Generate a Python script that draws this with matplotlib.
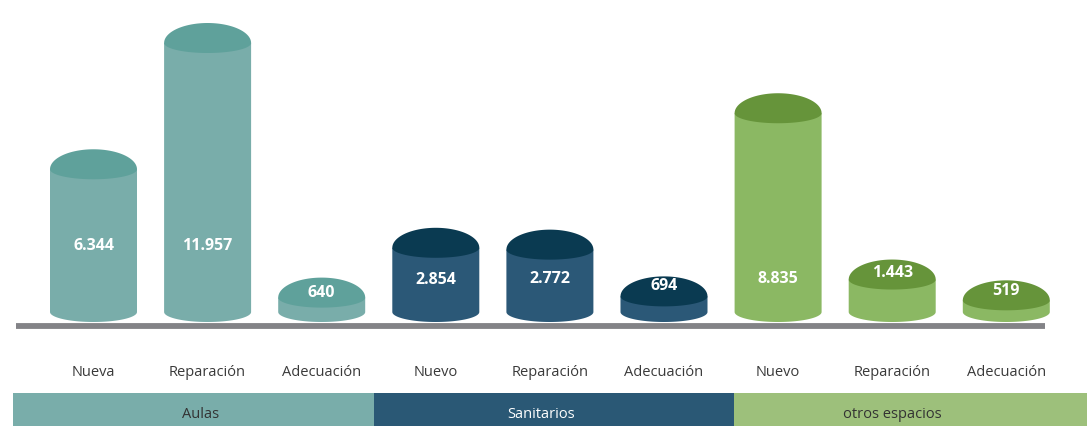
#!/usr/bin/env python3
"""Cylinder bars: obras por tipo de espacio (aulas, sanitarios, otros espacios)."""

import numpy as np
import matplotlib
matplotlib.use("Agg")
import matplotlib.pyplot as plt
from matplotlib.patches import Polygon, Rectangle

# data
categories = ["Nueva", "Reparación", "Adecuación",
              "Nuevo", "Reparación", "Adecuación",
              "Nuevo", "Reparación", "Adecuación"]
values = [6344, 11957, 640, 2854, 2772, 694, 8835, 1443, 519]
value_labels = ["6.344", "11.957", "640", "2.854", "2.772", "694", "8.835", "1.443", "519"]
groups = ["Aulas", "Sanitarios", "otros espacios"]
group_of_bar = [0, 0, 0, 1, 1, 1, 2, 2, 2]

GROUP_BODY = ["#79adaa", "#2b5877", "#8bb863"]
GROUP_CAP = ["#5fa19b", "#0a3a51", "#66943a"]
BAND_COLORS = ["#79adaa", "#2a5875", "#9dc07b"]
BAND_TEXT = ["#333333", "#ffffff", "#333333"]

# layout (pixel mapping of the 1087x426 canvas)
W, H = 1087, 426
X0_PX, DX_PX = 93.5, 114.1          # first bar centre, bar spacing
Y0_PX = 312.0                       # y=0 in pixels
SCALE = 269.0 / 11957.0             # pixels per unit


def ypx(p):
    return (Y0_PX - p) / SCALE


def xpx(p):
    return (p - X0_PX) / DX_PX


BAR_W = 87 / DX_PX
CAP_UP = 20 / SCALE
CAP_LOW = 10 / SCALE
BOTTOM_DIP = 10 / SCALE
LABEL_Y_PX = [246, 246, 293, 280, 279, 286, 279, 273, 291]

fig = plt.figure(figsize=(W / 100, H / 100), dpi=100)
ax = fig.add_axes([0, 0, 1, 1])
ax.set_xlim(xpx(0), xpx(W))
ax.set_ylim(ypx(H), ypx(0))
ax.axis("off")

t = np.linspace(0, np.pi, 60)
for i, v in enumerate(values):
    g = group_of_bar[i]
    left, right = i - BAR_W / 2, i + BAR_W / 2
    cx = i + (BAR_W / 2) * np.cos(t)  # right -> left

    # body: sides, bottom arc bulging down
    bottom_x = cx[::-1]
    bottom_y = -BOTTOM_DIP * np.sin(t)
    body = np.vstack([
        np.column_stack([bottom_x, bottom_y]),
        [[right, v], [left, v]],
    ])
    ax.add_patch(Polygon(body, closed=True, facecolor=GROUP_BODY[g],
                         edgecolor="none", zorder=2))

    # cap: lens shape
    upper = np.column_stack([cx, v + CAP_UP * np.sin(t)])
    lower = np.column_stack([cx[::-1], v - CAP_LOW * np.sin(t)])
    ax.add_patch(Polygon(np.vstack([upper, lower]), closed=True,
                         facecolor=GROUP_CAP[g], edgecolor="none", zorder=3))

    ax.text(i, ypx(LABEL_Y_PX[i]), value_labels[i], ha="center", va="center",
            color="white", fontsize=11.5, fontweight="bold",
            family="Open Sans", zorder=4)

    ax.text(i, ypx(373), categories[i], ha="center", va="center",
            color="#3a3a3a", fontsize=10.5, family="Open Sans")

# baseline
ax.plot([xpx(16), xpx(1045)], [ypx(325.7), ypx(325.7)], color="#838387",
        linewidth=4.2, solid_capstyle="butt", zorder=1)

# group bands
band_edges = [13, 373.5, 734, 1087]
band_text_px = [201, 541, 892]
for k, name in enumerate(groups):
    x_a, x_b = xpx(band_edges[k]), xpx(band_edges[k + 1])
    ax.add_patch(Rectangle((x_a, ypx(H)), x_b - x_a, ypx(393) - ypx(H),
                           facecolor=BAND_COLORS[k], edgecolor="none", zorder=1))
    ax.text(xpx(band_text_px[k]), ypx(415), name, ha="center", va="center",
            color=BAND_TEXT[k], fontsize=10.5, family="Open Sans", zorder=2)

fig.savefig("out.png", dpi=100)
